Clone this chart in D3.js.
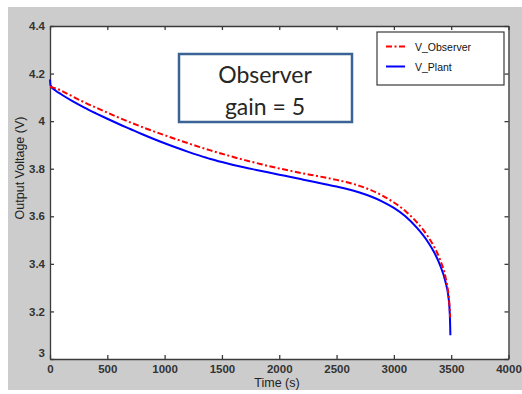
<!DOCTYPE html>
<html><head><meta charset="utf-8">
<script src="https://cdn.jsdelivr.net/npm/d3@7"></script>
<style>body{margin:0;background:#fff}svg{display:block}</style>
</head><body>
<script>
// ---- data ----
const plantTime = [0, 5, 50, 100, 200, 300, 400, 500, 600, 700, 800, 900, 1000, 1100, 1200, 1300, 1400, 1500, 1600, 1700, 1800, 1900, 2000, 2100, 2200, 2300, 2400, 2500, 2600, 2700, 2800, 2900, 3000, 3100, 3200, 3300, 3350, 3400, 3450, 3475, 3485, 3490, 3493];
const plantV    = [4.175, 4.15, 4.128, 4.112, 4.083, 4.057, 4.033, 4.010, 3.988, 3.967, 3.946, 3.926, 3.907, 3.889, 3.872, 3.856, 3.841, 3.828, 3.816, 3.805, 3.795, 3.785, 3.775, 3.765, 3.755, 3.745, 3.735, 3.725, 3.714, 3.700, 3.683, 3.662, 3.635, 3.600, 3.552, 3.490, 3.450, 3.398, 3.325, 3.265, 3.215, 3.16, 3.10];
const obsTime   = [0, 50, 100, 200, 300, 400, 500, 600, 700, 800, 900, 1000, 1100, 1200, 1300, 1400, 1500, 1600, 1700, 1800, 1900, 2000, 2100, 2200, 2300, 2400, 2500, 2600, 2700, 2800, 2900, 3000, 3100, 3200, 3300, 3350, 3400, 3450, 3475, 3485, 3491];
const obsV      = [4.145, 4.138, 4.128, 4.103, 4.079, 4.057, 4.036, 4.015, 3.995, 3.976, 3.958, 3.941, 3.924, 3.908, 3.892, 3.877, 3.863, 3.849, 3.836, 3.824, 3.812, 3.801, 3.791, 3.781, 3.772, 3.763, 3.753, 3.742, 3.728, 3.710, 3.687, 3.658, 3.622, 3.575, 3.513, 3.473, 3.421, 3.345, 3.275, 3.225, 3.175];
const xTicks = [0, 500, 1000, 1500, 2000, 2500, 3000, 3500, 4000];
const yTicks = [3, 3.2, 3.4, 3.6, 3.8, 4, 4.2, 4.4];
const seriesNames = ["V_Observer", "V_Plant"];
const annotation = ["Observer", "gain = 5"];

const W = 522, H = 394;
const svg = d3.select("body").append("svg").attr("width", W).attr("height", H);
svg.append("rect").attr("x", 8).attr("y", 7).attr("width", W - 8).attr("height", 383).attr("fill", "#cccccc");

const L = 50, R = 508.5, T = 26, B = 359;
const x = d3.scaleLinear().domain([0, 4000]).range([L, R]);
const y = d3.scaleLinear().domain([3, 4.4]).range([B, T]);

svg.append("rect").attr("x", L).attr("y", T).attr("width", R - L).attr("height", B - T).attr("fill", "#fff");

const axisCol = "#3a3a3a";
const tickFont = "Liberation Sans, Arial, sans-serif";
const gx = svg.append("g").attr("transform", `translate(0,${B})`)
  .call(d3.axisBottom(x).tickValues(xTicks).tickFormat(d3.format("d")).tickSizeInner(-4).tickSizeOuter(0).tickPadding(6));
const gy = svg.append("g").attr("transform", `translate(${L},0)`)
  .call(d3.axisLeft(y).tickValues(yTicks).tickFormat(d => d3.format("")(d)).tickSizeInner(-4).tickSizeOuter(0).tickPadding(5));
const gt = svg.append("g").attr("transform", `translate(0,${T})`)
  .call(d3.axisTop(x).tickValues(xTicks).tickFormat("").tickSizeInner(-4).tickSizeOuter(0));
const gr = svg.append("g").attr("transform", `translate(${R},0)`)
  .call(d3.axisRight(y).tickValues(yTicks).tickFormat("").tickSizeInner(-4).tickSizeOuter(0));
[gx, gy, gt, gr].forEach(g => {
  g.select(".domain").attr("stroke", axisCol).attr("stroke-width", 1.3);
  g.selectAll(".tick line").attr("stroke", axisCol).attr("stroke-width", 1.3);
  g.selectAll(".tick text").attr("fill", "#333").attr("font-family", tickFont)
    .attr("font-size", 11.5).attr("font-weight", "bold");
});
gx.selectAll(".tick text").filter(d => d === 0).attr("dy", "0.71em");
gy.selectAll(".tick text").filter(d => d === 3).attr("dy", "-0.2em");

// lines
const line = d3.line().x(d => x(d[0])).y(d => y(d[1])).curve(d3.curveMonotoneX);
const plantData = plantTime.map((t, i) => [t, plantV[i]]);
const obsData = obsTime.map((t, i) => [t, obsV[i]]);
svg.append("path").datum(plantData).attr("d", line).attr("fill", "none")
  .attr("stroke", "#0000ff").attr("stroke-width", 2);
svg.append("path").datum(obsData).attr("d", line).attr("fill", "none")
  .attr("stroke", "#ff0000").attr("stroke-width", 2).attr("stroke-dasharray", "6,2.5,2,2.5");

// axis labels
svg.append("text").attr("x", 277).attr("y", 387).attr("text-anchor", "middle")
  .attr("font-family", tickFont).attr("font-size", 12.5).attr("fill", "#222").text("Time  (s)");
svg.append("text").attr("transform", "translate(24,168) rotate(-90)").attr("text-anchor", "middle")
  .attr("font-family", tickFont).attr("font-size", 12.5).attr("fill", "#222").text("Output Voltage (V)");

// legend
const lg = svg.append("g");
lg.append("rect").attr("x", 377).attr("y", 32).attr("width", 127).attr("height", 53)
  .attr("fill", "#fff").attr("stroke", axisCol).attr("stroke-width", 1.2);
const legColors = ["#ff0000", "#0000ff"];
const legDash = ["6,2.5,2,2.5", null];
const legY = [48, 68];
seriesNames.forEach((n, i) => {
  lg.append("line").attr("x1", 386).attr("x2", 405).attr("y1", legY[i] - 1.5).attr("y2", legY[i] - 1.5)
    .attr("stroke", legColors[i]).attr("stroke-width", 2).attr("stroke-dasharray", legDash[i]);
  lg.append("text").attr("x", 415).attr("y", legY[i] + 3).attr("font-family", tickFont)
    .attr("font-size", 10.5).attr("fill", "#111").text(n);
});

// annotation box
svg.append("rect").attr("x", 179).attr("y", 54).attr("width", 173).attr("height", 68)
  .attr("fill", "#fff").attr("stroke", "#3b6396").attr("stroke-width", 2.5);
annotation.forEach((t, i) => {
  svg.append("text").attr("x", 265).attr("y", 83 + i * 32).attr("text-anchor", "middle")
    .attr("font-family", "Lato, 'Open Sans', sans-serif").attr("font-size", 23).attr("fill", "#262626").text(t);
});
</script>
</body></html>
